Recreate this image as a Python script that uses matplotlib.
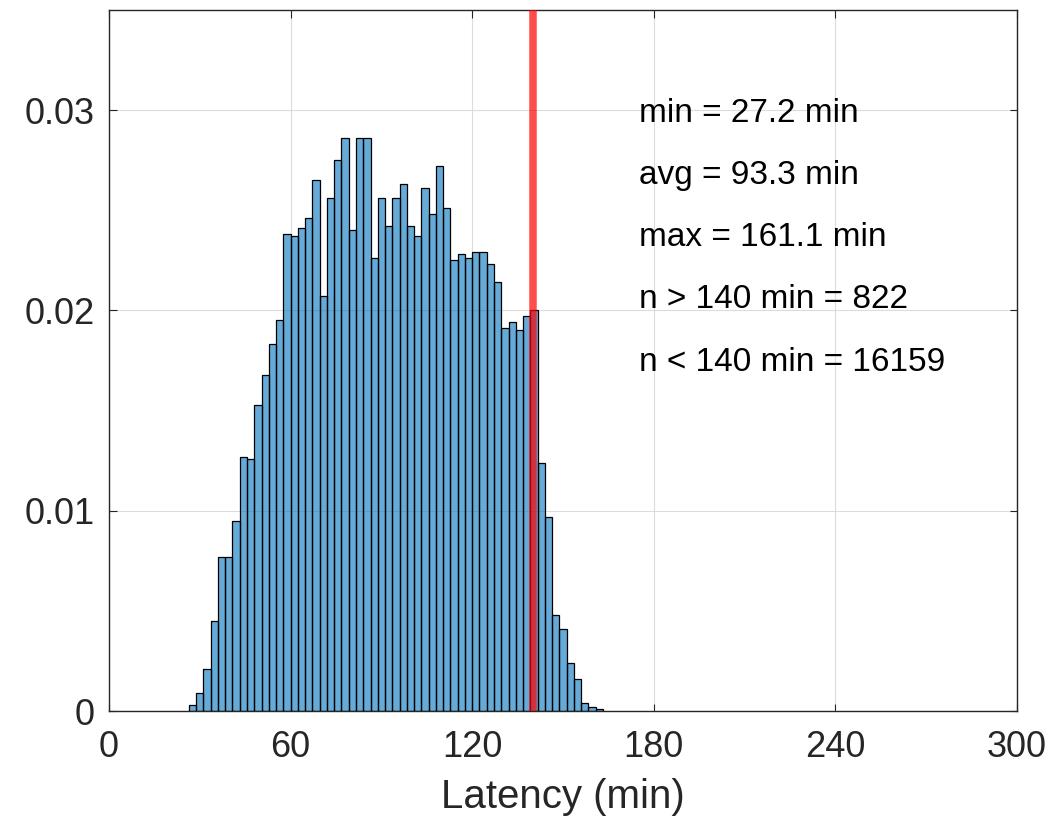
import numpy as np
import matplotlib
matplotlib.use('Agg')
import matplotlib.pyplot as plt

plt.rcParams['font.family'] = ['Liberation Sans', 'DejaVu Sans']

# histogram of latency, probability normalised (bins of 2.4 min from 26.4)
bin_start = 26.4
bin_width = 2.4
probs = [0.0003, 0.0009, 0.0021, 0.0045, 0.0077, 0.0077, 0.0095, 0.0127, 0.0126, 0.0153,
         0.0168, 0.0183, 0.0195, 0.0238, 0.0237, 0.0241, 0.0246, 0.0265, 0.0207, 0.0256,
         0.0275, 0.0286, 0.0240, 0.0286, 0.0286, 0.0226, 0.0256, 0.0242, 0.0256, 0.0263,
         0.0242, 0.0237, 0.0261, 0.0248, 0.0272, 0.0251, 0.0225, 0.0228, 0.0226, 0.0229,
         0.0229, 0.0223, 0.0214, 0.0191, 0.0194, 0.0190, 0.0197, 0.0200, 0.0124, 0.0097,
         0.0048, 0.0041, 0.0024, 0.0016, 0.0004, 0.0002, 0.0001]
threshold = 140

stats_text = ['min = 27.2 min', 'avg = 93.3 min', 'max = 161.1 min',
              'n > 140 min = 822', 'n < 140 min = 16159']
stats_x = 175
stats_y = [0.02943, 0.02632, 0.02321, 0.02010, 0.01699]

x_ticks = [0, 60, 120, 180, 240, 300]
y_ticks = [0, 0.01, 0.02, 0.03]
y_labels = ['0', '0.01', '0.02', '0.03']

fig = plt.figure(figsize=(10.64, 8.22), dpi=100)
ax = fig.add_axes([109/1064, 1 - 711/822, (1017 - 109)/1064, (711 - 10)/822])

left = bin_start + bin_width * np.arange(len(probs))
ax.bar(left, probs, width=bin_width, align='edge', color=(0, 0.447, 0.741), alpha=0.6,
       edgecolor='none', zorder=2)
ax.bar(left, probs, width=bin_width, align='edge', facecolor='none',
       edgecolor='black', linewidth=0.9, zorder=3)

ax.axvline(threshold, color='red', alpha=0.7, linewidth=5.4, zorder=4)

for t, yy in zip(stats_text, stats_y):
    ax.text(stats_x, yy, t, fontsize=24, va='baseline', ha='left', color='black')

ax.set_xlim(0, 300)
ax.set_ylim(0, 0.035)
ax.set_xticks(x_ticks)
ax.set_yticks(y_ticks)
ax.set_yticklabels(y_labels)
ax.grid(True, color='#dcdcdc', linewidth=0.8, zorder=0)
ax.set_axisbelow(True)
ax.tick_params(direction='in', length=5.4, width=0.8, top=True, right=True,
               labelsize=26, colors='#262626', pad=10)
ax.tick_params(axis='x', pad=14)
for s in ax.spines.values():
    s.set_color('#262626')
    s.set_linewidth(1.0)
ax.set_xlabel('Latency (min)', fontsize=29, color='#262626', labelpad=9)

fig.savefig('out.png', dpi=100)
